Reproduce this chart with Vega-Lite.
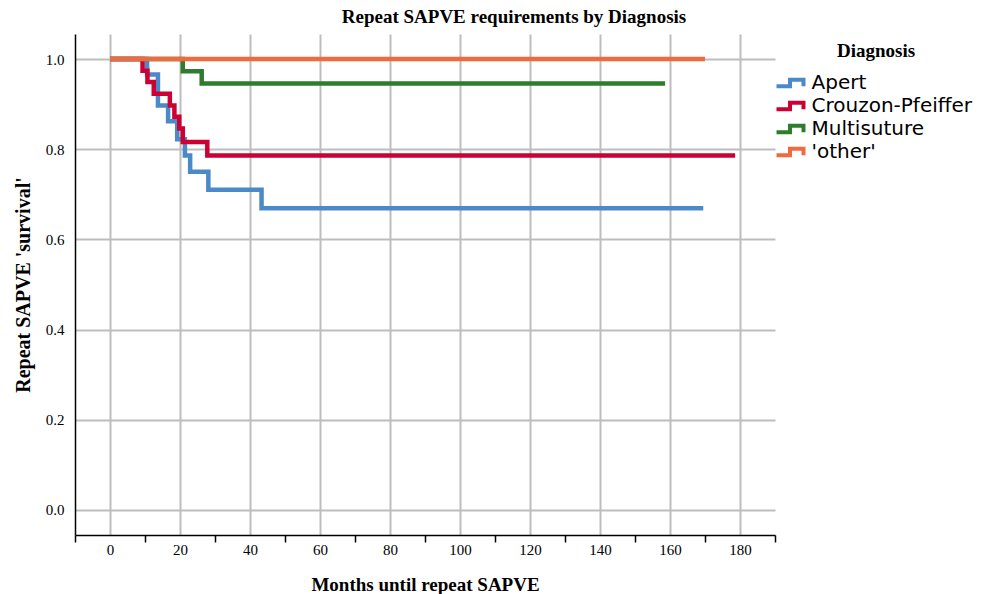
{
  "$schema": "https://vega.github.io/schema/vega-lite/v6.json",
  "width": 700,
  "height": 501,
  "autosize": {"type": "none"},
  "padding": {"left": 75, "top": 34, "right": 213, "bottom": 59},
  "background": "white",
  "title": {"text": "Repeat SAPVE requirements by Diagnosis", "font": "Liberation Serif", "fontSize": 19, "fontWeight": "bold", "anchor": "middle", "offset": 7, "dx": 89, "color": "black"},
  "data": {"values": [
    {"diagnosis": "Apert", "months": 0, "survival": 1.0},
    {"diagnosis": "Apert", "months": 10.6, "survival": 0.966},
    {"diagnosis": "Apert", "months": 13.7, "survival": 0.897},
    {"diagnosis": "Apert", "months": 16.6, "survival": 0.862},
    {"diagnosis": "Apert", "months": 19.2, "survival": 0.822},
    {"diagnosis": "Apert", "months": 21.4, "survival": 0.786},
    {"diagnosis": "Apert", "months": 22.9, "survival": 0.750},
    {"diagnosis": "Apert", "months": 28.1, "survival": 0.710},
    {"diagnosis": "Apert", "months": 43.3, "survival": 0.669},
    {"diagnosis": "Apert", "months": 169.5, "survival": 0.669},
    {"diagnosis": "Crouzon-Pfeiffer", "months": 0, "survival": 1.0},
    {"diagnosis": "Crouzon-Pfeiffer", "months": 9.3, "survival": 0.974},
    {"diagnosis": "Crouzon-Pfeiffer", "months": 10.7, "survival": 0.949},
    {"diagnosis": "Crouzon-Pfeiffer", "months": 12.5, "survival": 0.923},
    {"diagnosis": "Crouzon-Pfeiffer", "months": 17.1, "survival": 0.897},
    {"diagnosis": "Crouzon-Pfeiffer", "months": 18.4, "survival": 0.872},
    {"diagnosis": "Crouzon-Pfeiffer", "months": 19.8, "survival": 0.846},
    {"diagnosis": "Crouzon-Pfeiffer", "months": 20.8, "survival": 0.816},
    {"diagnosis": "Crouzon-Pfeiffer", "months": 27.8, "survival": 0.786},
    {"diagnosis": "Crouzon-Pfeiffer", "months": 178.6, "survival": 0.786},
    {"diagnosis": "Multisuture", "months": 0, "survival": 1.0},
    {"diagnosis": "Multisuture", "months": 20.8, "survival": 0.973},
    {"diagnosis": "Multisuture", "months": 26.2, "survival": 0.946},
    {"diagnosis": "Multisuture", "months": 158.6, "survival": 0.946},
    {"diagnosis": "'other'", "months": 0, "survival": 1.0},
    {"diagnosis": "'other'", "months": 170, "survival": 1.0}
  ]},
  "mark": {"type": "line", "interpolate": "step-after", "strokeWidth": 4.5, "strokeCap": "butt", "strokeJoin": "miter"},
  "encoding": {
    "x": {
      "field": "months", "type": "quantitative",
      "scale": {"domain": [-10, 190], "nice": false, "zero": false},
      "axis": {
        "values": [-10, 0, 10, 20, 30, 40, 50, 60, 70, 80, 90, 100, 110, 120, 130, 140, 150, 160, 170, 180, 190],
        "title": "Months until repeat SAPVE",
        "titleFont": "Liberation Serif", "titleFontSize": 19, "titleFontWeight": "bold", "titleColor": "black", "titlePadding": 18,
        "labelFont": "Liberation Serif", "labelFontSize": 15, "labelColor": "black", "labelPadding": 0,
        "labelExpr": "datum.value % 20 === 0 ? datum.label : ''",
        "labelFlush": false, "labelOverlap": false,
        "tickSize": 7, "tickColor": "black", "tickWidth": 1.5,
        "tickOpacity": {"condition": {"test": "datum.value % 20 !== 0", "value": 1}, "value": 0},
        "grid": true, "gridColor": "#bdbdbd", "gridWidth": 2,
        "gridOpacity": {"condition": {"test": "datum.value % 20 === 0", "value": 1}, "value": 0},
        "domainColor": "black", "domainWidth": 1.5
      }
    },
    "y": {
      "field": "survival", "type": "quantitative",
      "scale": {"domain": [-0.0556, 1.0556], "nice": false, "zero": false},
      "axis": {
        "values": [0, 0.2, 0.4, 0.6, 0.8, 1.0], "format": ".1f",
        "title": "Repeat SAPVE 'survival'",
        "titleFont": "Liberation Serif", "titleFontSize": 20, "titleFontWeight": "bold", "titleColor": "black", "titlePadding": 12,
        "labelFont": "Liberation Serif", "labelFontSize": 15, "labelColor": "black", "labelPadding": 11,
        "ticks": false,
        "grid": true, "gridColor": "#bdbdbd", "gridWidth": 2,
        "domainColor": "black", "domainWidth": 1.5
      }
    },
    "color": {
      "field": "diagnosis", "type": "nominal",
      "scale": {"domain": ["Apert", "Crouzon-Pfeiffer", "Multisuture", "'other'"], "range": ["#4b89c8", "#cc0033", "#2e7d2e", "#ef6a3e"]},
      "legend": {
        "title": "Diagnosis", "orient": "none", "legendX": 705, "legendY": 8,
        "titleFont": "Liberation Serif", "titleFontSize": 19, "titleFontWeight": "bold", "titleColor": "black", "titleAnchor": "middle", "titlePadding": 12,
        "labelFont": "DejaVu Sans", "labelFontSize": 20, "labelColor": "black", "labelOffset": 11.5, "labelLimit": 300,
        "symbolType": "M-2,0.5L0,0.5L0,-0.5L2,-0.5L2,0.5",
        "symbolSize": 182, "symbolStrokeWidth": 4, "symbolFillColor": "transparent",
        "rowPadding": -1
      }
    }
  },
  "config": {"view": {"stroke": null}}
}
